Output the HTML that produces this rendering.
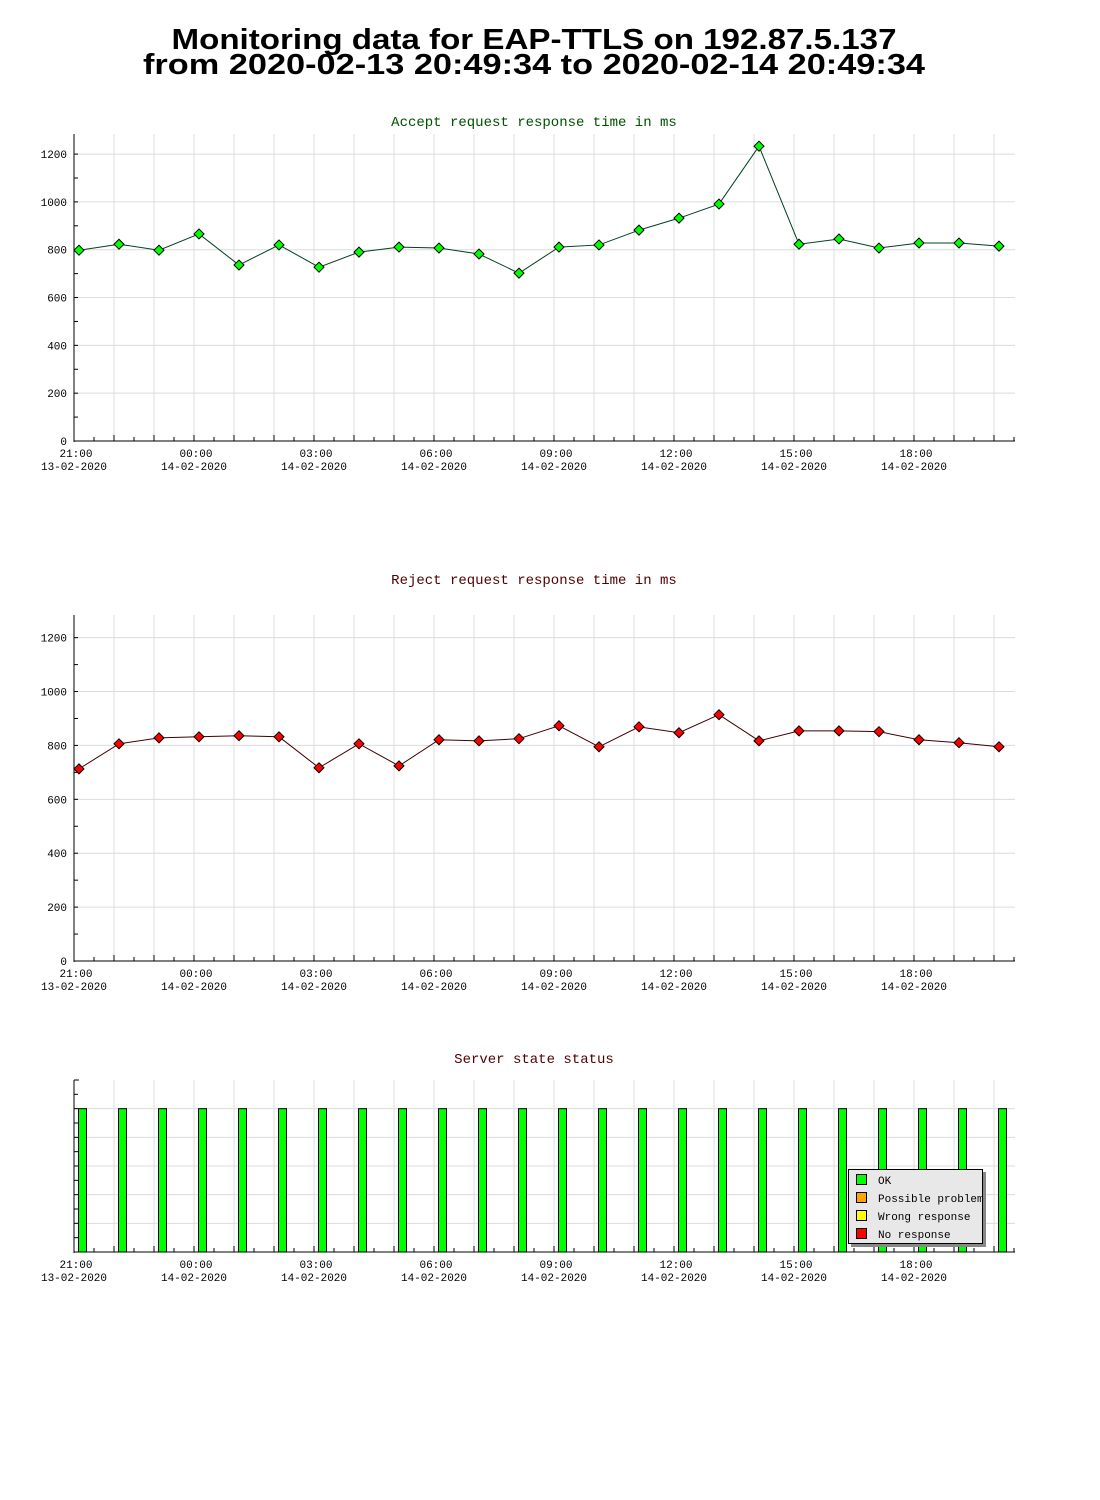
<!DOCTYPE html>
<html><head><meta charset="utf-8"><style>
body{margin:0;background:#fff}
svg{display:block}
text{font-family:"Liberation Mono","DejaVu Sans Mono",monospace}
</style></head><body>
<svg id="svg" width="1100" height="1500" xmlns="http://www.w3.org/2000/svg">
<text x="534" y="49" text-anchor="middle" textLength="725" lengthAdjust="spacingAndGlyphs" style="font-family:'Liberation Sans',sans-serif;font-weight:bold;font-size:29px">Monitoring data for EAP-TTLS on 192.87.5.137</text>
<text x="534" y="74" text-anchor="middle" textLength="782" lengthAdjust="spacingAndGlyphs" style="font-family:'Liberation Sans',sans-serif;font-weight:bold;font-size:29px">from 2020-02-13 20:49:34 to 2020-02-14 20:49:34</text>
<g id="c1"></g>
<g id="c2"></g>
<g id="c3"></g>
</svg>
<script>
const hourLabels = ["21:00","00:00","03:00","06:00","09:00","12:00","15:00","18:00"];
const dateLabels = ["13-02-2020","14-02-2020","14-02-2020","14-02-2020","14-02-2020","14-02-2020","14-02-2020","14-02-2020"];
const yTicks = [0,200,400,600,800,1000,1200];
const acceptValues = [798,823,798,866,736,820,727,790,811,807,782,702,811,820,882,932,991,1233,823,845,807,828,828,815];
const rejectValues = [713,806,828,832,836,832,717,806,724,821,817,825,873,795,869,847,914,817,854,854,851,821,810,795];
const statusValues = [1,1,1,1,1,1,1,1,1,1,1,1,1,1,1,1,1,1,1,1,1,1,1,1];
const legendLabels = ["OK","Possible problem","Wrong response","No response"];
const legendColors = ["#00ff00","#ffa500","#ffff00","#ff0000"];

const NS="http://www.w3.org/2000/svg";
function mk(p,tag,attrs){const e=document.createElementNS(NS,tag);for(const k in attrs)e.setAttribute(k,attrs[k]);p.appendChild(e);return e;}
const X0=74, HW=40, NH=23.5;
function xAt(h){return X0+HW*h;}

function frame(g, top, bottom, yMax, yLabels, title, titleColor, titleY){
  const yS=v=>bottom-(v/yMax)*(bottom-top);
  const t=mk(g,'text',{x:534,y:titleY,'text-anchor':'middle','font-size':'14',fill:titleColor});
  
  
  t.textContent=title;
  // vertical grid
  for(let h=1;h<=23;h++){
    const l=mk(g,'line',{x1:xAt(h),x2:xAt(h),y1:top,y2:bottom,stroke:'#dcdcdc'});
    
    
  }
  return yS;
}
function axes(g, top, bottom, yS, yMinor, yLabels){
  mk(g,'line',{x1:X0,x2:X0,y1:top,y2:bottom+1,stroke:'#000'});
  mk(g,'line',{x1:X0,x2:1015,y1:bottom,y2:bottom,stroke:'#000'});
  for(let i=1;i<=47;i++){
    const x=X0+20*i;
    mk(g,'line',{x1:x,x2:x,y1:bottom,y2:bottom-(i%2?4:6),stroke:'#000'});
  }
  yMinor.forEach(v=>mk(g,'line',{x1:X0,x2:X0+4,y1:yS(v),y2:yS(v),stroke:'#000'}));
  hourLabels.forEach((lab,i)=>{
    const x=xAt(i*3);
    const a=mk(g,'text',{x:x+2,y:bottom+16,'text-anchor':'middle','font-size':'11'});
    
    
    a.textContent=lab;
    const b=mk(g,'text',{x:x,y:bottom+29,'text-anchor':'middle','font-size':'11'});
    
    
    b.textContent=dateLabels[i];
  });
  if(yLabels) yLabels.forEach(v=>{
    const t=mk(g,'text',{x:X0-7,y:yS(v)+4,'text-anchor':'end','font-size':'11'});
    
    
    t.textContent=v;
  });
}
function lineChart(id, top, bottom, title, tc, titleY, vals, lineColor, dotColor){
  const g=document.getElementById(id);
  const yMax=1284;
  const yS=frame(g,top,bottom,yMax,yTicks,title,tc,titleY);
  yTicks.slice(1).forEach(v=>mk(g,'line',{x1:X0,x2:1015,y1:yS(v),y2:yS(v),stroke:'#dcdcdc'}));
  const minor=[];for(let v=100;v<1284;v+=100)minor.push(v);
  axes(g,top,bottom,yS,minor,yTicks);
  const pts=vals.map((v,i)=>[xAt(i)+5,yS(v)]);
  const pl=mk(g,'polyline',{points:pts.map(p=>p.join(',')).join(' '),fill:'none',stroke:lineColor,'stroke-width':1});
  
  
  pts.forEach(p=>{
    const c=mk(g,'path',{d:`M${p[0]},${p[1]-5}L${p[0]+5},${p[1]}L${p[0]},${p[1]+5}L${p[0]-5},${p[1]}Z`,fill:dotColor,stroke:'#000','stroke-width':1});
    
    
  });
}
lineChart('c1',134,441,'Accept request response time in ms','#005000',126,acceptValues,'#004020','#00ff00');
lineChart('c2',615,961,'Reject request response time in ms','#500000',584,rejectValues,'#400000','#ff0000');

// status chart
(function(){
  const g=document.getElementById('c3');
  const top=1080,bottom=1252;
  const yS=frame(g,top,bottom,6,null,'Server state status','#500000',1063);
  const yS2=v=>bottom-v*(bottom-top)/1.2;
  [0.2,0.4,0.6,0.8,1.0].forEach(v=>mk(g,'line',{x1:X0,x2:1015,y1:yS2(v),y2:yS2(v),stroke:'#dcdcdc'}));
  const minor=[];for(let v=0.1;v<1.2;v+=0.1)minor.push(v);
  axes(g,top,bottom,yS2,minor,null);
  mk(g,'line',{x1:X0,x2:X0+5,y1:top,y2:top,stroke:'#000'});
  statusValues.forEach((v,i)=>{
    const x=xAt(i)+5;
    const r=mk(g,'rect',{x:x-0.5,y:yS2(v),width:8,height:bottom-yS2(v),fill:'#00ff00',stroke:'#000'});
    
    
  });
  const lg=mk(g,'g',{});
  
  
  mk(lg,'rect',{x:851,y:1172,width:135,height:75,fill:'#888'});
  mk(lg,'rect',{x:848.5,y:1169.5,width:134,height:74,fill:'#e8e8e8',stroke:'#000'});
  legendLabels.forEach((lab,i)=>{
    const y=1174+18*i;
    const s=mk(lg,'rect',{x:856.5,y:y+0.5,width:10,height:10,fill:legendColors[i],stroke:'#000'});
    
    
    const t=mk(lg,'text',{x:878,y:y+10,'font-size':'11'});
    
    
    t.textContent=lab;
  });
})();
</script>
</body></html>
